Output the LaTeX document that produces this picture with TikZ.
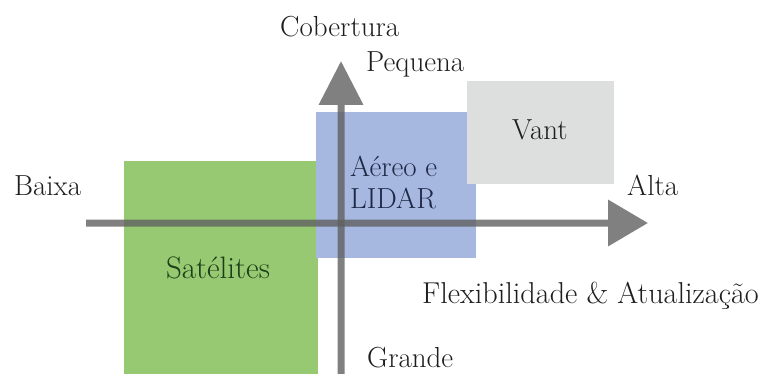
\documentclass[tikz,border=0pt]{standalone}
\usetikzlibrary{arrows.meta}
\definecolor{satgreen}{RGB}{150,201,113}
\definecolor{aerblue}{RGB}{166,184,223}
\definecolor{vantgray}{RGB}{221,222,222}
\definecolor{axisgray}{RGB}{96,96,96}
\definecolor{labeltxt}{RGB}{30,30,30}
\definecolor{aertxt}{RGB}{30,40,72}
\definecolor{sattxt}{RGB}{28,62,24}
\begin{document}
\begin{tikzpicture}[x=1pt,y=-1pt,
  lbl/.style={font=\fontsize{29}{33}\selectfont, text=labeltxt, inner sep=0pt, anchor=base west},
  region/.style={inner sep=0pt, anchor=north west, draw=none},
  axisline/.style={draw=axisgray, line width=7pt}]
\useasboundingbox (0,0) rectangle (770,374);
% regions
\node[region, fill=satgreen, minimum width=194pt, minimum height=214pt] (sat) at (124,161) {};
\node[region, fill=aerblue, minimum width=160pt, minimum height=146pt] (aer) at (316,112) {};
\node[region, fill=vantgray, minimum width=147pt, minimum height=103pt] (vant) at (467,81) {};
% axes
\coordinate (hx0) at (86,223);
\coordinate (hx1) at (648,223);
\coordinate (vy0) at (341,376);
\coordinate (vy1) at (341,61);
\begin{scope}[transparency group, opacity=0.8]
\draw[axisline, -{Triangle[length=40pt,width=45pt]}] (hx0) -- (hx1);
\end{scope}
\begin{scope}[transparency group, opacity=0.8]
\draw[axisline, -{Triangle[length=44pt,width=43pt]}] (vy0) -- (vy1);
\end{scope}
% labels
\node[lbl] (cob) at (280,37) {Cobertura};
\node[lbl] (peq) at (366,72) {Pequena};
\node[lbl] (baixa) at (14,195) {Baixa};
\node[lbl] (alta) at (627,195) {Alta};
\node[lbl, font=\fontsize{30.2}{35}\selectfont] (flex) at (422,303) {Flexibilidade \& Atualização};
\node[lbl] (grande) at (367,367) {Grande};
\node[lbl, text=aertxt] (aer1) at (350,176) {Aéreo e};
\node[lbl, text=aertxt] (aer2) at (350,208) {LIDAR};
\node[lbl] (vanttxt) at (512,140) {Vant};
\node[lbl, text=sattxt, font=\fontsize{31}{35}\selectfont, anchor=base] (sattxt) at (218,278) {Satélites};
\end{tikzpicture}
\end{document}
